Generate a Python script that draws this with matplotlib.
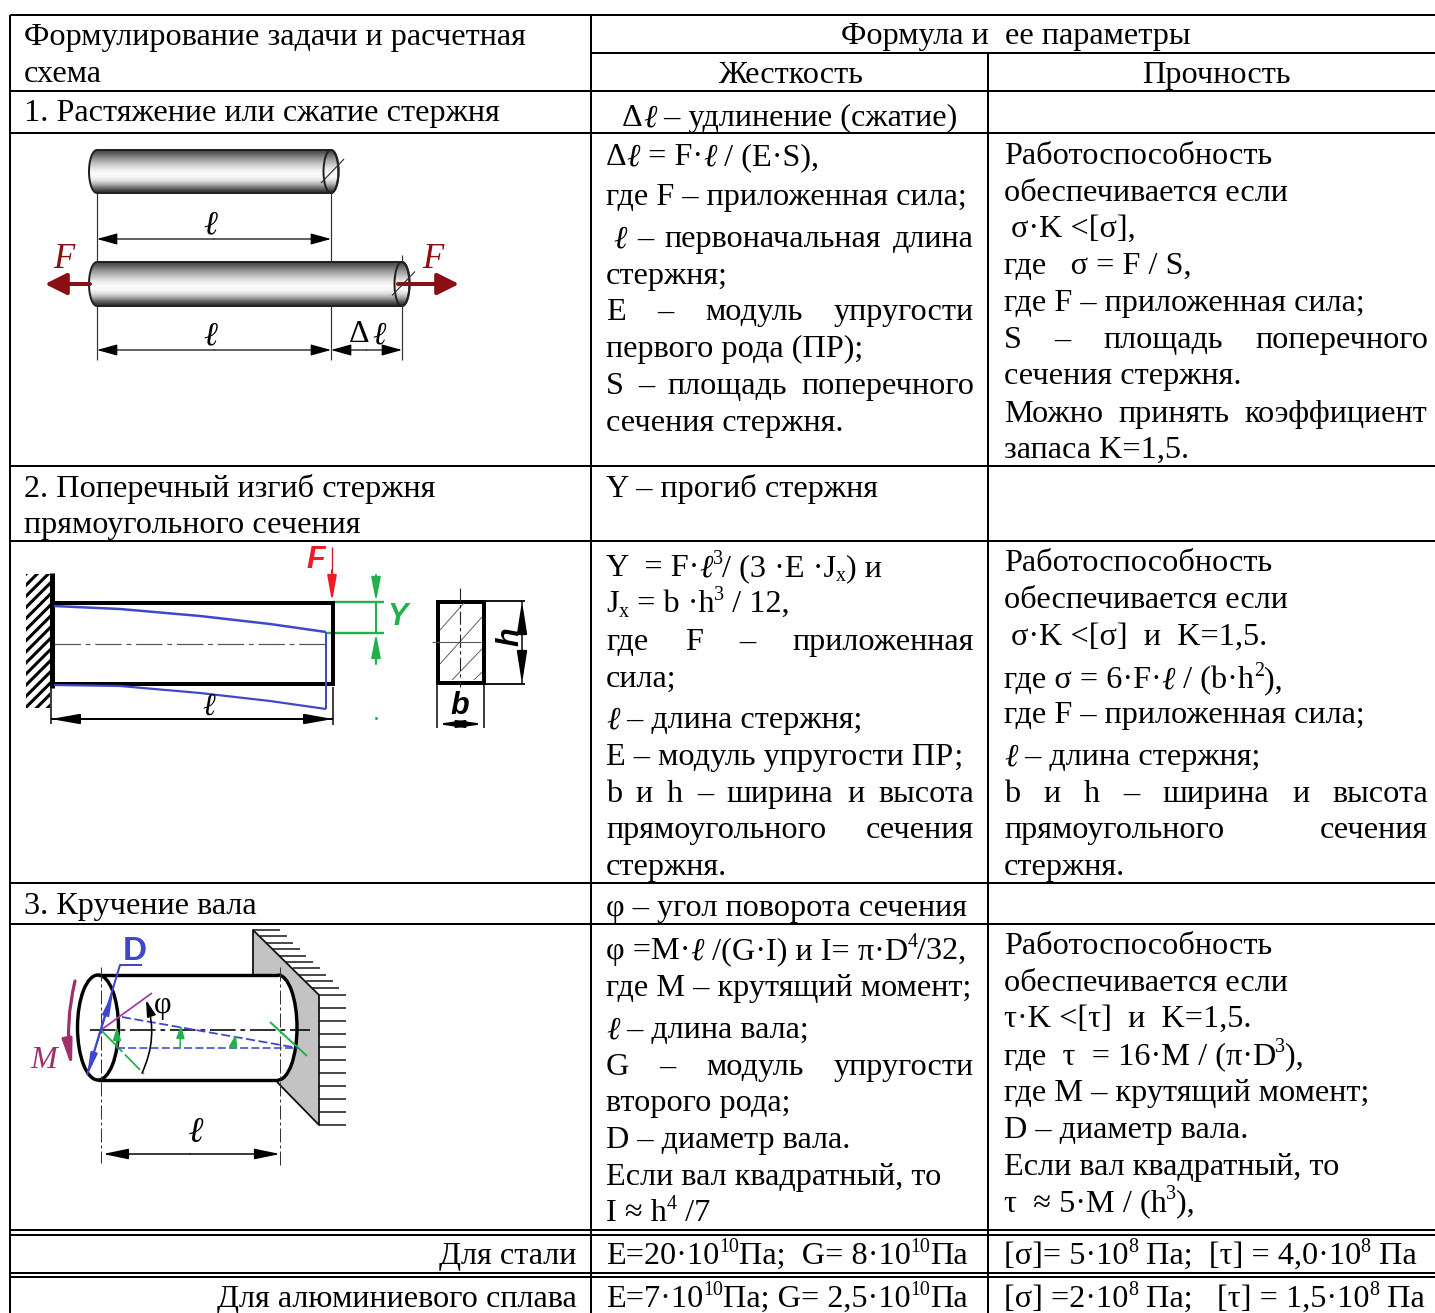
import re
import numpy as np
import matplotlib
matplotlib.use("Agg")
import matplotlib.pyplot as plt
from matplotlib.font_manager import FontProperties
from matplotlib.textpath import TextToPath
from matplotlib.patches import Ellipse, Polygon, Rectangle, Arc

W, H = 1435, 1313
FS = 23.2
SERIF = "Liberation Serif"
SANS = "Liberation Sans"
plt.rcParams["hatch.linewidth"] = 2.2

# ---------- table text: (x, baseline, text, right edge when justified) ----------
COL1 = [
    (24, 45, "Формулирование задачи и расчетная", None),
    (24, 82, "схема", None),
    (24, 121, "1. Растяжение или сжатие стержня", None),
    (24, 497, "2. Поперечный изгиб стержня", None),
    (24, 533, "прямоугольного сечения", None),
    (24, 914, "3. Кручение вала", None),
]
HEAD_CENTER = [
    (1016, 44, "Формула и  ее параметры"),
    (790, 83, "Жесткость"),
    (1216, 83, "Прочность"),
    (790, 126, "Δℓ – удлинение (сжатие)"),
]
COL2 = [
    (606, 165, "Δℓ = F·ℓ / (E·S),", None),
    (606, 205, "где F – приложенная сила;", None),
    (613, 247, "ℓ – первоначальная длина", 974),
    (606, 284, "стержня;", None),
    (606, 320, "E – модуль упругости", 974),
    (606, 357, "первого рода (ПР);", None),
    (606, 394, "S – площадь поперечного", 974),
    (606, 431, "сечения стержня.", None),
    (606, 497, "Y – прогиб стержня", None),
    (606, 576, "Y  = F·ℓ^{3}/ (3 ·E ·J_{x}) и", None),
    (606, 612, "J_{x} = b ·h^{3} / 12,", None),
    (606, 650, "где F – приложенная", 974),
    (606, 687, "сила;", None),
    (606, 728, "ℓ – длина стержня;", None),
    (606, 765, "E – модуль упругости ПР;", None),
    (606, 802, "b и h – ширина и высота", 974),
    (606, 838, "прямоугольного сечения", 974),
    (606, 875, "стержня.", None),
    (606, 916, "φ – угол поворота сечения", None),
    (606, 959, "φ =M·ℓ /(G·I) и I= π·D^{4}/32,", None),
    (606, 996, "где М – крутящий момент;", None),
    (606, 1038, "ℓ – длина вала;", None),
    (606, 1075, "G – модуль упругости", 974),
    (606, 1111, "второго рода;", None),
    (606, 1148, "D – диаметр вала.", None),
    (606, 1185, "Если вал квадратный, то", None),
    (606, 1221, "I ≈ h^{4} /7", None),
    (606, 1264, "E=20·10^{10}Па;  G= 8·10^{10}Па", None),
    (606, 1307, "E=7·10^{10}Па; G= 2,5·10^{10}Па", None),
]
COL3 = [
    (1004, 164, "Работоспособность", None),
    (1004, 201, "обеспечивается если", None),
    (1011, 237, "σ·K <[σ],", None),
    (1004, 274, "где   σ = F / S,", None),
    (1004, 311, "где F – приложенная сила;", None),
    (1004, 348, "S – площадь поперечного", 1428),
    (1004, 384, "сечения стержня.", None),
    (1004, 422, "Можно принять коэффициент", 1428),
    (1004, 458, "запаса K=1,5.", None),
    (1004, 571, "Работоспособность", None),
    (1004, 608, "обеспечивается если", None),
    (1011, 645, "σ·K <[σ]  и  K=1,5.", None),
    (1004, 688, "где σ = 6·F·ℓ / (b·h^{2}),", None),
    (1004, 723, "где F – приложенная сила;", None),
    (1004, 765, "ℓ – длина стержня;", None),
    (1004, 802, "b и h – ширина и высота", 1428),
    (1004, 838, "прямоугольного сечения", 1428),
    (1004, 875, "стержня.", None),
    (1004, 954, "Работоспособность", None),
    (1004, 991, "обеспечивается если", None),
    (1004, 1027, "τ·K <[τ]  и  K=1,5.", None),
    (1004, 1064, "где  τ  = 16·M / (π·D^{3}),", None),
    (1004, 1101, "где М – крутящий момент;", None),
    (1004, 1138, "D – диаметр вала.", None),
    (1004, 1175, "Если вал квадратный, то", None),
    (1004, 1211, "τ  ≈ 5·M / (h^{3}),", None),
    (1004, 1264, "[σ]= 5·10^{8} Па;  [τ] = 4,0·10^{8} Па", None),
    (1004, 1307, "[σ] =2·10^{8} Па;   [τ] = 1,5·10^{8} Па", None),
]
RIGHT_LABELS = [(577, 1264, "Для стали"), (577, 1307, "Для алюминиевого сплава")]

# ---------- grid lines ----------
H_RULES = [(10, 1435, 15), (591, 1435, 53), (10, 1435, 91), (10, 1435, 133), (10, 1435, 466),
           (10, 1435, 541), (10, 1435, 883), (10, 1435, 924), (10, 1435, 1230), (10, 1435, 1235),
           (10, 1435, 1273), (10, 1435, 1277)]
V_RULES = [(10, 15, 1313), (591, 15, 1313), (988, 53, 1313)]

fig = plt.figure(figsize=(W / 100, H / 100), dpi=100, facecolor="white")
ax = fig.add_axes([0, 0, 1, 1])
ax.set_xlim(0, W)
ax.set_ylim(H, 0)
ax.axis("off")

t2p = TextToPath()


def px(n):
    return n * 0.72


def twidth(s, size, style="normal"):
    fp = FontProperties(family=SERIF, style=style, size=size)
    full = t2p.get_text_width_height_descent("|" + s + "|", fp, False)[0]
    bars = t2p.get_text_width_height_descent("||", fp, False)[0]
    return (full - bars) * 100 / 72


def segments(s):
    out = []
    for part in re.split(r"(\^\{[^}]*\}|_\{[^}]*\})", s):
        if not part:
            continue
        if part[0] == "^":
            out.append((part[2:-1], FS * 0.62, -12))
        elif part[0] == "_":
            out.append((part[2:-1], FS * 0.62, 5))
        else:
            for p in re.split("(ℓ)", part):
                if p:
                    out.append((p, FS, 0))
    return out


def seg_width(s):
    return sum(twidth(t, z, "italic" if t == "ℓ" else "normal") for t, z, _ in segments(s))


def draw(x, y, s):
    for t, z, dy in segments(s):
        st = "italic" if t == "ℓ" else "normal"
        ax.text(x, y + dy, t, family=SERIF, style=st, size=z, va="baseline", ha="left", color="black", zorder=10)
        x += twidth(t, z, st)
    return x


def cell(x, y, s, right):
    if right is None:
        draw(x, y, s)
        return
    words = s.split()
    total = sum(seg_width(w) for w in words)
    gap = (right - x - total) / (len(words) - 1)
    for w in words:
        draw(x, y, w)
        x += seg_width(w) + gap


for lst in (COL1, COL2, COL3):
    for row in lst:
        cell(*row)
for x, y, s in HEAD_CENTER:
    draw(x - seg_width(s) / 2, y, s)
for x, y, s in RIGHT_LABELS:
    draw(x - seg_width(s), y, s)

for x0, x1, y in H_RULES:
    ax.plot([x0, x1], [y, y], color="black", lw=px(2), solid_capstyle="butt", zorder=5)
for x, y0, y1 in V_RULES:
    ax.plot([x, x], [y0, y1], color="black", lw=px(2), solid_capstyle="butt", zorder=5)


def line(xs, ys, c="black", w=1.0, ls="-", z=6):
    ax.plot(xs, ys, color=c, lw=px(w), ls=ls, zorder=z, solid_capstyle="butt")


def arrow(x0, y0, x1, y1, c="black", w=1.0, ms=12, z=7, head="head_length=0.9,head_width=0.25"):
    ax.annotate("", xy=(x1, y1), xytext=(x0, y0), zorder=z, annotation_clip=False,
                arrowprops=dict(arrowstyle=f"-|>,{head}", color=c, lw=px(w), shrinkA=0, shrinkB=0,
                                mutation_scale=ms))


def label(x, y, s, c="black", size=24, family=SERIF, style="italic", weight="normal", rot=0):
    ax.text(x, y, s, color=c, size=size, family=family, style=style, weight=weight, rotation=rot,
            ha="center", va="center", zorder=9)


# ---------- diagram 1: bar in tension ----------
DARKRED = "#8a0f14"
SHADE = np.array([0.3, 0.45, 0.6, 0.72, 0.84, 0.93, 0.98, 0.97, 0.88, 0.7, 0.45, 0.22]).reshape(-1, 1)


def cylinder(x0, x1, top, bot):
    cy, rh = (top + bot) / 2, (bot - top) / 2
    t = np.linspace(np.pi / 2, 3 * np.pi / 2, 30)
    left = np.c_[x0 + 8 + 8 * np.cos(t), cy - rh * np.sin(t)]
    t2 = np.linspace(-np.pi / 2, np.pi / 2, 30)
    right = np.c_[x1 + 7.5 * np.cos(t2), cy - rh * np.sin(t2)]
    outline = np.r_[left, right]
    patch = Polygon(outline, closed=True, fc="none", ec="#222222", lw=px(2), zorder=7)
    ax.add_patch(patch)
    im = ax.imshow(SHADE, extent=(x0, x1 + 8, bot, top), cmap="gray", vmin=0, vmax=1, aspect="auto", zorder=6,
                   interpolation="bilinear")
    im.set_clip_path(patch)
    ax.add_patch(Ellipse((x1, cy), 15, bot - top, fc="none", ec="#222222", lw=px(2), zorder=7))
    line([x1 - 10, x1 + 13], [cy + 11.5, cy - 12.5], "#333333", 1.2, z=8)


cylinder(89, 331, 150, 193)
cylinder(89, 402, 262, 306)
ax.set_xlim(0, W)
ax.set_ylim(H, 0)
GRAY = "#333333"
line([96.5, 96.5], [193, 262], GRAY, 1.2)
line([96.5, 96.5], [306, 360], GRAY, 1.2)
line([331, 331], [193, 262], GRAY, 1.2)
line([331, 331], [306, 360], GRAY, 1.2)
line([402, 402], [255, 262], GRAY, 1.2)
line([402, 402], [306, 360], GRAY, 1.2)
for x0, x1, y in [(97, 331, 239), (97, 331, 350), (331, 402, 350)]:
    arrow((x0 + x1) / 2, y, x0, y, "black", 1.2, 14)
    arrow((x0 + x1) / 2, y, x1, y, "black", 1.2, 14)
arrow(90, 284, 45, 284, DARKRED, 4, 12, head="head_length=1.1,head_width=0.55")
arrow(398, 284, 459, 284, DARKRED, 4, 12, head="head_length=1.1,head_width=0.55")
label(210, 225, "ℓ", "black", 24)
label(210, 336, "ℓ", "black", 24)
label(359, 335, "Δ", "black", 23, SERIF, "normal")
label(379, 336, "ℓ", "black", 23)
label(64, 260, "F", DARKRED, 25)
label(433, 260, "F", DARKRED, 25)

# ---------- diagram 2: cantilever bending ----------
BLUE = "#3f48cc"
GREEN = "#22b14c"
RED = "#ed1c24"
ax.add_patch(Rectangle((26, 574), 24, 134, fc="white", ec="black", lw=0, hatch="///", zorder=5))
ax.add_patch(Rectangle((52, 603), 281, 81, fc="none", ec="black", lw=px(4), zorder=7))
line([52, 52], [573, 688], "black", 5, z=7)
line([54, 120, 200, 270, 326], [606, 609, 616, 624, 632], BLUE, 2.5, z=8)
line([54, 120, 200, 270, 326], [685, 686, 693, 701, 709], BLUE, 2.2, z=8)
line([326, 326], [632, 709], BLUE, 2, z=8)
line([54, 328], [644, 644], "#555555", 1.2, ls=(0, (22, 4, 4, 4)))
line([333, 384], [602, 602], GREEN, 2.4)
line([327, 384], [633, 633], GREEN, 2.4)
line([376, 376], [602, 633], GREEN, 2)
arrow(376, 575, 376, 602, GREEN, 2, 11, head="head_length=1.3,head_width=0.25")
arrow(376, 664, 376, 633, GREEN, 2, 11, head="head_length=1.3,head_width=0.25")
ax.plot([376], [718], marker="s", ms=1, color=GREEN, zorder=6)
line([332, 332], [547, 575], "#cc2233", 1.4)
arrow(332, 570, 332, 602, RED, 2, 11, head="head_length=1.4,head_width=0.25")
label(316, 560, "F", RED, 22, SANS, "italic", "bold")
label(398, 617, "Y", GREEN, 22, SANS, "italic", "bold")
label(209, 707, "ℓ", "black", 22)
line([51, 51], [687, 724], "black", 1.5)
line([333, 333], [687, 725], "black", 1.5)
line([51, 333], [719, 719], "black", 2)
arrow(70, 719, 51, 719, "black", 2, 12, head="head_length=1.4,head_width=0.25")
arrow(314, 719, 333, 719, "black", 2, 12, head="head_length=1.4,head_width=0.25")
ax.add_patch(Rectangle((438, 602), 46, 81, fc="white", ec="black", lw=px(4), zorder=6))
for a, b, c, d in [(440, 630, 464, 603), (440, 664, 482, 617), (452, 680, 482, 649), (474, 680, 482, 672)]:
    line([a, c], [b, d], "#555555", 0.9, z=7)
line([460, 460], [588, 687], "#222222", 1.1, ls=(0, (12, 3, 3, 3)), z=7)
line([432, 481], [642, 642], "#555555", 1.1, z=7)
line([484, 525], [601, 601], "black", 1.8)
line([484, 525], [684, 684], "black", 1.8)
line([522, 522], [601, 684], "black", 1.5)
arrow(522, 630, 522, 601, "black", 2, 12, head="head_length=1.6,head_width=0.25")
arrow(522, 655, 522, 684, "black", 2, 12, head="head_length=1.6,head_width=0.25")
line([437, 437], [684, 728], "black", 1.5)
line([484, 484], [684, 728], "black", 1.5)
arrow(460, 724, 437, 724, "black", 2, 11, head="head_length=1.4,head_width=0.2")
arrow(460, 724, 484, 724, "black", 2, 11, head="head_length=1.4,head_width=0.2")
label(460, 706, "b", "black", 22, SANS, "italic", "bold")
label(510, 637, "h", "black", 22, SANS, "italic", "bold", rot=90)

# ---------- diagram 3: shaft torsion ----------
PURPLE = "#a0306a"
ax.add_patch(Polygon([(253, 930), (319, 995), (319, 1125), (277, 1082), (253, 1082), (253, 930)], closed=True,
                     fc="#c3c3c3", ec="none", zorder=5))
line([253, 253, 319, 319, 277], [975, 930, 995, 1125, 1082], "#111111", 1.8)
for k in range(10):
    line([253 + 6.6 * k, 280 + 6.6 * k], [930 + 6.4 * k, 930 + 6.4 * k], "#111111", 1.5)
for k in range(11):
    line([319, 346], [995 + 13 * k, 995 + 13 * k], "#111111", 1.5)
ax.add_patch(Rectangle((98, 975), 180, 105, fc="white", ec="none", zorder=6))
ax.add_patch(Ellipse((278, 1027.5), 38, 105, fc="white", ec="none", zorder=6))
ax.add_patch(Ellipse((98, 1027.5), 41, 105, fc="white", ec="black", lw=px(3.4), zorder=7))
ax.add_patch(Arc((278, 1027.5), 38, 105, theta1=-90, theta2=90, ec="black", lw=px(3.4), zorder=7))
line([98, 278], [975, 975], "black", 3.4, z=7)
line([98, 278], [1080, 1080], "black", 3.4, z=7)
line([90, 310], [1030, 1030], "black", 1.6, ls=(0, (16, 3, 3, 3)), z=8)
line([101, 101], [967, 1163], "#333333", 1, ls=(0, (14, 3, 3, 3)), z=8)
line([280, 280], [967, 1167], "#333333", 1, ls=(0, (14, 3, 3, 3)), z=8)
line([87, 120, 142], [1075, 965, 965], BLUE, 2, z=8)
arrow(101, 1030, 87, 1076, BLUE, 1.6, 10, z=9, head="head_length=1.4,head_width=0.22")
arrow(101, 1030, 113, 992, BLUE, 1.6, 10, z=9, head="head_length=1.4,head_width=0.22")
label(135, 951, "D", BLUE, 24, SANS, "normal", "bold")
line([101, 152], [1030, 993], "#a040a0", 1.8, z=8)
line([101, 144], [1030, 1074], GREEN, 1.8, ls=(0, (12, 2, 3, 2)), z=8)
line([270, 307], [1022, 1056], GREEN, 2, z=8)
line([122, 298], [1017, 1048], BLUE, 1.8, ls=(0, (5, 2)), z=8)
line([117, 298], [1048, 1048], BLUE, 1.6, ls=(0, (5, 2)), z=8)
for x0, y0, x1, y1 in [(117, 1048, 117, 1027), (180, 1048, 181, 1025), (233, 1048, 236, 1034)]:
    arrow(x0, y0, x1, y1, GREEN, 1.6, 7, z=9, head="head_length=1.1,head_width=0.35")
ax.annotate("", xy=(146, 1000), xytext=(142, 1073), zorder=9,
            arrowprops=dict(arrowstyle="-|>,head_length=0.9,head_width=0.25", color="black", lw=px(1.6),
                            connectionstyle="arc3,rad=0.2", shrinkA=0, shrinkB=0, mutation_scale=11))
label(163, 1006, "φ", "black", 22, SERIF, "normal")
ax.annotate("", xy=(72, 1068), xytext=(75, 981), zorder=9,
            arrowprops=dict(arrowstyle="-|>,head_length=1.2,head_width=0.22", color=PURPLE, lw=px(3.2),
                            connectionstyle="arc3,rad=0.1", shrinkA=0, shrinkB=0, mutation_scale=13))
label(44, 1061, "M", PURPLE, 23)
arrow(190, 1154, 103, 1154, "black", 1.5, 13, head="head_length=1.2,head_width=0.25")
arrow(190, 1154, 280, 1154, "black", 1.5, 13, head="head_length=1.2,head_width=0.25")
label(197, 1134, "ℓ", "black", 26, SERIF, "italic", "bold")

fig.savefig("out.png", dpi=100, facecolor="white")
